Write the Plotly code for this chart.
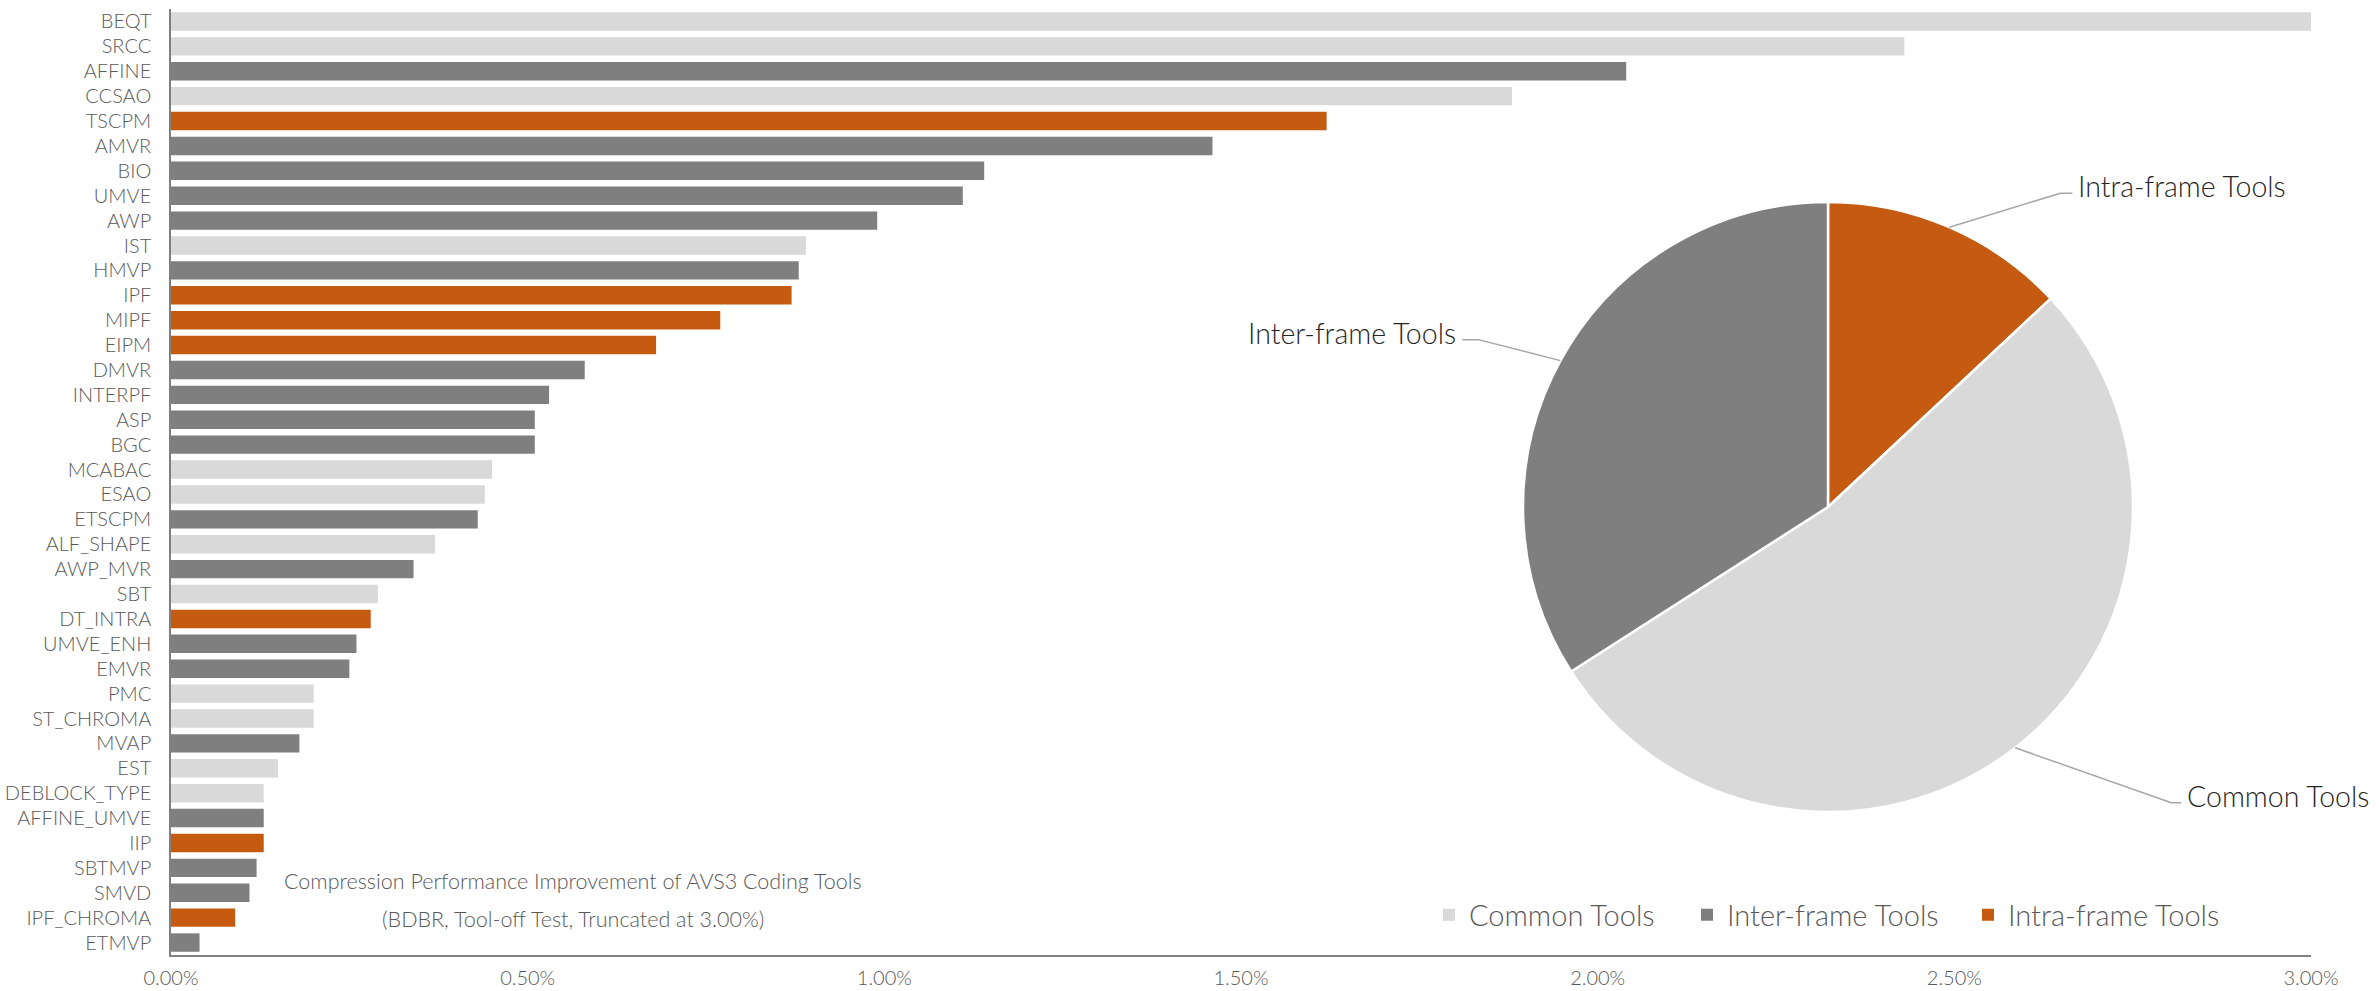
import math
import plotly.graph_objects as go

# BDBR gain (%) of each AVS3 coding tool, measured with the tool switched off
tools = ["BEQT", "SRCC", "AFFINE", "CCSAO", "TSCPM", "AMVR", "BIO", "UMVE", "AWP", "IST",
         "HMVP", "IPF", "MIPF", "EIPM", "DMVR", "INTERPF", "ASP", "BGC", "MCABAC", "ESAO",
         "ETSCPM", "ALF_SHAPE", "AWP_MVR", "SBT", "DT_INTRA", "UMVE_ENH", "EMVR", "PMC",
         "ST_CHROMA", "MVAP", "EST", "DEBLOCK_TYPE", "AFFINE_UMVE", "IIP", "SBTMVP", "SMVD",
         "IPF_CHROMA", "ETMVP"]
bdbr = [10.6, 2.43, 2.04, 1.88, 1.62, 1.46, 1.14, 1.11, 0.99, 0.89,
        0.88, 0.87, 0.77, 0.68, 0.58, 0.53, 0.51, 0.51, 0.45, 0.44,
        0.43, 0.37, 0.34, 0.29, 0.28, 0.26, 0.25, 0.20,
        0.20, 0.18, 0.15, 0.13, 0.13, 0.13, 0.12, 0.11,
        0.09, 0.04]
category = ["Common", "Common", "Inter", "Common", "Intra", "Inter", "Inter", "Inter", "Inter", "Common",
            "Inter", "Intra", "Intra", "Intra", "Inter", "Inter", "Inter", "Inter", "Common", "Common",
            "Inter", "Common", "Inter", "Common", "Intra", "Inter", "Inter", "Common",
            "Common", "Inter", "Common", "Common", "Inter", "Intra", "Inter", "Inter",
            "Intra", "Inter"]

groups = ["Common", "Inter", "Intra"]
group_names = {"Common": "Common Tools", "Inter": "Inter-frame Tools", "Intra": "Intra-frame Tools"}
group_colors = {"Common": "#d9d9d9", "Inter": "#7f7f7f", "Intra": "#c55a11"}

x_ticks = [0, 0.5, 1.0, 1.5, 2.0, 2.5, 3.0]
x_tick_labels = ["0.00%", "0.50%", "1.00%", "1.50%", "2.00%", "2.50%", "3.00%"]
x_max = 3.0

# pie slices, clockwise from 12 o'clock
pie_order = ["Intra", "Common", "Inter"]

FONT = "Lato, 'Noto Sans', sans-serif"
TXT = "#595959"

W, H = 2379, 991
ML, MR, MT, MB = 171, 68, 9, 36
PW, PH = W - ML - MR, H - MT - MB

# pie placement in pixels
PIE_CX, PIE_CY, PIE_R = 1828, 507, 305


def to_paper(px, py):
    return (px - ML) / PW, (H - MB - py) / PH


fig = go.Figure()

legend_widths = {"Common": 213, "Inter": 236, "Intra": 225}
for g in groups:
    ys = [t for t, c in zip(tools, category) if c == g]
    xs = [v for v, c in zip(bdbr, category) if c == g]
    fig.add_trace(go.Bar(
        y=ys, x=xs, orientation="h", name=group_names[g],
        marker=dict(color=group_colors[g], line=dict(width=0)),
        legendwidth=legend_widths[g],
        hovertemplate="%{y}: %{x:.2f}%<extra></extra>",
    ))

# totals per group feed the pie
totals = {g: sum(v for v, c in zip(bdbr, category) if c == g) for g in groups}
pie_vals = [totals[g] for g in pie_order]

x0, y1 = to_paper(PIE_CX - PIE_R, PIE_CY - PIE_R)
x1, y0 = to_paper(PIE_CX + PIE_R, PIE_CY + PIE_R)
fig.add_trace(go.Pie(
    labels=[group_names[g] for g in pie_order],
    values=pie_vals,
    sort=False, direction="clockwise", rotation=0,
    marker=dict(colors=[group_colors[g] for g in pie_order], line=dict(color="white", width=2.5)),
    textinfo="none", showlegend=False,
    domain=dict(x=[x0, x1], y=[y0, y1]),
))

# leader lines and outside labels for the pie
leader = {  # elbow offset from slice edge, horizontal run, side
    "Intra": (111, -34, 12, "left"),
    "Common": (156, 55, 10, "left"),
    "Inter": (-82, -21, -16, "right"),
}
shapes = []
annotations = []
total = sum(pie_vals)
start = 0.0
for g, v in zip(pie_order, pie_vals):
    frac = v / total
    mid = (start + frac / 2) * 2 * math.pi
    start += frac
    ex = PIE_CX + PIE_R * math.sin(mid)
    ey = PIE_CY - PIE_R * math.cos(mid)
    dx, dy, hrun, side = leader[g]
    kx, ky = ex + dx, ey + dy
    hx = kx + hrun
    p = [to_paper(ex, ey), to_paper(kx, ky), to_paper(hx, ky)]
    shapes.append(dict(
        type="path", xref="paper", yref="paper",
        path=f"M{p[0][0]},{p[0][1]} L{p[1][0]},{p[1][1]} L{p[2][0]},{p[2][1]}",
        line=dict(color="#a6a6a6", width=1.5),
    ))
    tx = hx + (4 if side == "left" else -4)
    tx_p, ty_p = to_paper(tx, ky - 7)
    annotations.append(dict(
        x=tx_p, y=ty_p, xref="paper", yref="paper", showarrow=False,
        text=group_names[g], xanchor=side, yanchor="middle",
        font=dict(family=FONT, size=28.5, color="#262626", weight=300),
    ))

# chart caption
cx, cy1 = to_paper(573, 881)
_, cy2 = to_paper(573, 919)
annotations.append(dict(x=cx, y=cy1, xref="paper", yref="paper", showarrow=False,
                        text="Compression Performance Improvement of AVS3 Coding Tools",
                        xanchor="center", yanchor="middle",
                        font=dict(family=FONT, size=21.5, color=TXT, weight=300)))
annotations.append(dict(x=cx, y=cy2, xref="paper", yref="paper", showarrow=False,
                        text="(BDBR, Tool-off Test, Truncated at 3.00%)",
                        xanchor="center", yanchor="middle",
                        font=dict(family=FONT, size=21.5, color=TXT, weight=300)))

lx, ly = to_paper(1443 - 14, 915)

fig.update_layout(
    width=W, height=H,
    margin=dict(l=ML, r=MR, t=MT, b=MB, pad=0, autoexpand=False),
    paper_bgcolor="white", plot_bgcolor="white",
    barmode="overlay", bargap=0.26,
    font=dict(family=FONT, color=TXT, weight=300),
    showlegend=True,
    legend=dict(orientation="h", x=lx, y=ly, xanchor="left", yanchor="middle",
                font=dict(family=FONT, size=29, color=TXT, weight=300),
                bgcolor="rgba(0,0,0,0)", traceorder="normal"),
    xaxis=dict(range=[0, x_max], tickvals=x_ticks, ticktext=x_tick_labels,
               showgrid=False, zeroline=False, showline=True, linecolor="#808080", linewidth=1.5,
               ticks="", ticklabelstandoff=4, automargin=False,
               tickfont=dict(family=FONT, size=20, color=TXT, weight=300)),
    yaxis=dict(type="category", categoryorder="array", categoryarray=tools,
               autorange="reversed", showgrid=False, zeroline=False,
               showline=True, linecolor="#808080", linewidth=1.5, ticks="",
               ticklabelstandoff=14, automargin=False,
               tickfont=dict(family=FONT, size=20, color=TXT, weight=300)),
    shapes=shapes, annotations=annotations,
)

fig.write_html("out.html")
